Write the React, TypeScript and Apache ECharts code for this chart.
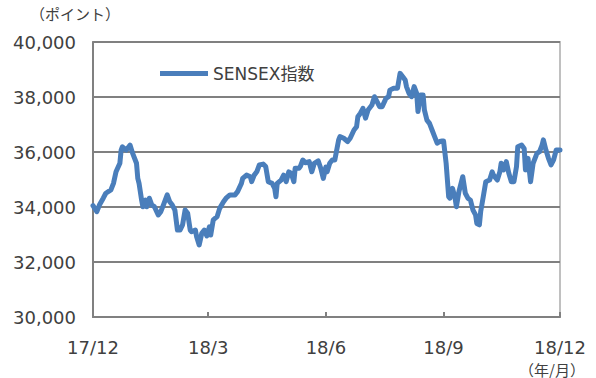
import React, { useEffect, useRef } from "react";
import * as echarts from "echarts";

const seriesName = "SENSEX指数";
const yMin = 30000;
const yMax = 40000;
const yInterval = 2000;
const xTickDates = ["2017-12-01", "2018-03-01", "2018-06-01", "2018-09-01", "2018-12-01"];
const yAxisUnit = "（ポイント）";
const xAxisUnit = "（年/月）";

const dates = [
  "2017-12-01","2017-12-04","2017-12-06","2017-12-09","2017-12-11","2017-12-15","2017-12-17","2017-12-19","2017-12-22","2017-12-23",
  "2017-12-24","2017-12-27","2017-12-30","2018-01-01","2018-01-04","2018-01-05","2018-01-06","2018-01-08","2018-01-09","2018-01-11",
  "2018-01-12","2018-01-14","2018-01-16","2018-01-18","2018-01-21","2018-01-23","2018-01-25","2018-01-28","2018-01-30","2018-02-01",
  "2018-02-03","2018-02-05","2018-02-07","2018-02-09","2018-02-11","2018-02-13","2018-02-15","2018-02-16","2018-02-19","2018-02-20",
  "2018-02-22","2018-02-24","2018-02-26","2018-02-28","2018-03-02","2018-03-03","2018-03-05","2018-03-08","2018-03-10","2018-03-13",
  "2018-03-15","2018-03-18","2018-03-22","2018-03-24","2018-03-27","2018-03-28","2018-03-31","2018-04-03","2018-04-04","2018-04-06",
  "2018-04-08","2018-04-10","2018-04-13","2018-04-15","2018-04-17","2018-04-20","2018-04-22","2018-04-23","2018-04-24","2018-04-27",
  "2018-04-29","2018-05-01","2018-05-03","2018-05-05","2018-05-07","2018-05-08","2018-05-11","2018-05-12","2018-05-14","2018-05-16",
  "2018-05-19","2018-05-21","2018-05-23","2018-05-26","2018-05-28","2018-05-30","2018-06-01","2018-06-02","2018-06-04","2018-06-06",
  "2018-06-08","2018-06-11","2018-06-12","2018-06-15","2018-06-18","2018-06-20","2018-06-23","2018-06-25","2018-06-26","2018-06-28",
  "2018-06-30","2018-07-02","2018-07-04","2018-07-07","2018-07-09","2018-07-11","2018-07-13","2018-07-15","2018-07-18","2018-07-20",
  "2018-07-21","2018-07-24","2018-07-27","2018-07-29","2018-07-31","2018-08-02","2018-08-03","2018-08-05","2018-08-07","2018-08-09",
  "2018-08-11","2018-08-12","2018-08-14","2018-08-16","2018-08-17","2018-08-19","2018-08-21","2018-08-23","2018-08-25","2018-08-27",
  "2018-08-29","2018-08-31","2018-09-01","2018-09-03","2018-09-05","2018-09-06","2018-09-08","2018-09-10","2018-09-11","2018-09-13",
  "2018-09-16","2018-09-18","2018-09-20","2018-09-22","2018-09-24","2018-09-26","2018-09-27","2018-09-29","2018-09-30","2018-10-02",
  "2018-10-04","2018-10-07","2018-10-09","2018-10-10","2018-10-13","2018-10-15","2018-10-16","2018-10-18","2018-10-20","2018-10-22",
  "2018-10-24","2018-10-26","2018-10-28","2018-10-29","2018-11-01","2018-11-03","2018-11-04","2018-11-06","2018-11-08","2018-11-10",
  "2018-11-13","2018-11-15","2018-11-17","2018-11-18","2018-11-20","2018-11-22","2018-11-24","2018-11-26","2018-11-28","2018-12-01",
];

const values = [
  34050,33830,34070,34320,34500,34620,34860,35280,35590,36070,
  36190,36070,36250,35950,35590,35040,34860,34250,34010,34250,
  34010,34320,34070,34010,33710,33830,34070,34440,34190,34070,
  33890,33160,33160,33350,33890,33770,33160,33100,33160,32920,
  32620,33040,33160,32950,33280,32980,33530,33650,33950,34190,
  34320,34440,34440,34560,34860,35040,35160,35100,34920,35160,
  35280,35530,35560,35470,34920,34860,34680,34370,34860,34980,
  35160,34920,35280,35220,34920,35410,35410,35470,35710,35610,
  35650,35280,35590,35680,35410,35040,35450,35280,35590,35710,
  35710,36440,36560,36500,36380,36500,36800,36920,37280,37410,
  37590,37230,37530,37710,38010,37830,37650,37650,37950,38010,
  38250,38320,38320,38860,38740,38620,38380,38130,38010,38380,
  38130,37470,38070,38070,37530,37160,37040,36800,36560,36320,
  36380,36400,36400,35590,34370,34320,34680,34320,34010,34560,
  35100,34500,34320,34250,33890,33710,33400,33350,33830,34370,
  34920,34980,35280,35160,34980,35280,35590,35350,35650,35230,
  34920,34920,35470,36190,36250,36130,35350,35770,34920,35590,
  35950,36010,36250,36440,36070,35770,35530,35710,36070,36070,
];

const parseDate = (s: string) => {
  const [y, m, d] = s.split("-").map(Number);
  return Date.UTC(y, m - 1, d);
};

const FONT = "'DejaVu Sans', 'Noto Sans CJK JP', sans-serif";
const CJK_FONT = "'Noto Sans CJK JP', sans-serif";
const TEXT_COLOR = "#404040";

export default function App() {
  const ref = useRef<HTMLDivElement>(null);
  useEffect(() => {
    if (!ref.current) return;
    const chart = echarts.init(ref.current, undefined, { renderer: "svg" });
    const tickValues = xTickDates.map(parseDate);
    chart.setOption({
      animation: false,
      backgroundColor: "#ffffff",
      title: [
        {
          text: yAxisUnit,
          left: 30,
          top: 4,
          padding: 0,
          textStyle: {
            fontFamily: CJK_FONT,
            fontSize: 15,
            fontWeight: "normal",
            color: TEXT_COLOR,
            lineHeight: 18,
          },
        },
        {
          text: xAxisUnit,
          left: 519,
          top: 361,
          padding: 0,
          textStyle: {
            fontFamily: CJK_FONT,
            fontSize: 15,
            fontWeight: "normal",
            color: TEXT_COLOR,
            lineHeight: 16,
          },
        },
      ],
      grid: {
        left: 93,
        right: 36,
        top: 42,
        bottom: 61,
        show: true,
        borderColor: "#c0c0c0",
        borderWidth: 2,
        backgroundColor: "transparent",
      },
      legend: {
        show: true,
        left: 155,
        top: 60,
        icon: "rect",
        itemWidth: 48,
        itemHeight: 5,
        textStyle: { fontFamily: FONT, fontSize: 17, color: TEXT_COLOR },
        data: [seriesName],
      },
      xAxis: {
        type: "value",
        min: tickValues[0],
        max: tickValues[tickValues.length - 1],
        axisLine: { show: true, lineStyle: { color: "#808080", width: 2 } },
        axisTick: {
          show: true,
          inside: true,
          length: 5,
          lineStyle: { color: "#808080", width: 2 },
          customValues: tickValues,
        },
        splitLine: { show: false },
        axisLabel: {
          customValues: tickValues,
          margin: 21,
          fontFamily: FONT,
          fontSize: 18,
          lineHeight: 18,
          color: TEXT_COLOR,
          showMinLabel: true,
          showMaxLabel: true,
          formatter: (v: number) => {
            const d = new Date(v);
            return `${String(d.getUTCFullYear()).slice(2)}/${d.getUTCMonth() + 1}`;
          },
        },
      },
      yAxis: {
        type: "value",
        min: yMin,
        max: yMax,
        interval: yInterval,
        axisLine: { show: true, lineStyle: { color: "#808080", width: 2 } },
        axisTick: { show: false },
        splitLine: { show: true, lineStyle: { color: "#808080", width: 2 } },
        axisLabel: {
          margin: 17,
          fontFamily: FONT,
          fontSize: 18,
          color: TEXT_COLOR,
          formatter: (v: number) => v.toLocaleString("en-US"),
        },
      },
      series: [
        {
          name: seriesName,
          type: "line",
          data: dates.map((d, i) => [parseDate(d), values[i]]),
          showSymbol: false,
          symbol: "none",
          lineStyle: { color: "#4a7ebb", width: 5, join: "round", cap: "round" },
          itemStyle: { color: "#4a7ebb" },
        },
      ],
    });
    return () => chart.dispose();
  }, []);
  return (
    <div
      ref={ref}
      style={{ position: "fixed", left: 0, top: 0, width: 596, height: 378 }}
    />
  );
}
